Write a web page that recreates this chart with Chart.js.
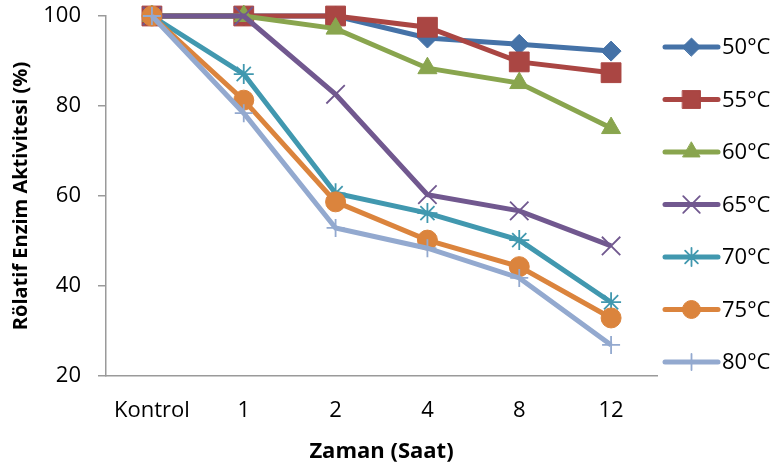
<!DOCTYPE html>
<html>
<head>
<meta charset="utf-8">
<script src="https://cdn.jsdelivr.net/npm/chart.js@4/dist/chart.umd.min.js"></script>
<style>
  html, body { margin: 0; padding: 0; background: #fff; }
  #wrap { width: 780px; height: 466px; }
</style>
</head>
<body>
<div id="wrap"><canvas id="myChart" width="780" height="466"></canvas></div>
<script>
const categories = ['Kontrol', '1', '2', '4', '8', '12'];
const seriesNames = ['50°C', '55°C', '60°C', '65°C', '70°C', '75°C', '80°C'];
const t50 = [100, 100, 100, 95.1, 93.7, 92.2];
const t55 = [100, 100, 100, 97.5, 89.8, 87.4];
const t60 = [100, 100, 97.2, 88.4, 85.1, 75.1];
const t65 = [100, 100, 82.6, 60.3, 56.7, 48.9];
const t70 = [100, 87.1, 60.6, 56.2, 50.2, 36.4];
const t75 = [100, 81.3, 58.7, 50.2, 44.3, 32.9];
const t80 = [100, 78.4, 52.9, 48.4, 41.8, 26.9];
const yTicks = [20, 40, 60, 80, 100];

const colors = ['#4572A7', '#AA4643', '#89A54E', '#71588F', '#4198AF', '#DB843D', '#93A9CF'];
const styles = ['rectRot', 'rect', 'triangle', 'crossRot', 'star', 'circle', 'cross'];
const radii = [10, 14, 11, 13, 10, 10, 9];
const values = [t50, t55, t60, t65, t70, t75, t80];

const FONT = "'Open Sans', 'Liberation Sans', sans-serif";

const datasets = values.map((v, i) => {
  const lineMarker = ['crossRot', 'star', 'cross'].includes(styles[i]);
  return {
    label: seriesNames[i],
    data: v,
    order: values.length - i,   // later series on top, like the original
    clip: false,
    borderColor: colors[i],
    backgroundColor: colors[i],
    borderWidth: 5,
    pointStyle: styles[i],
    pointRadius: radii[i],
    pointBorderWidth: lineMarker ? 1.8 : 1,
    pointBorderColor: colors[i],
    pointBackgroundColor: colors[i],
    tension: 0
  };
});

// Excel-like legend on the right
const sideLegend = {
  id: 'sideLegend',
  afterDraw(chart) {
    const ctx = chart.ctx;
    const x0 = 665, x1 = 718;
    ctx.save();
    chart.data.datasets.forEach((ds, i) => {
      const y = 47 + i * 52.5;
      ctx.strokeStyle = ds.borderColor;
      ctx.lineWidth = 5;
      ctx.lineCap = 'round';
      ctx.beginPath();
      ctx.moveTo(x0, y);
      ctx.lineTo(x1, y);
      ctx.stroke();
      ctx.lineWidth = ds.pointBorderWidth;
      ctx.fillStyle = ds.backgroundColor;
      Chart.helpers.drawPoint(ctx, { pointStyle: ds.pointStyle, radius: ds.pointRadius * 0.9, borderWidth: ds.pointBorderWidth, rotation: 0 }, (x0 + x1) / 2, y);
      ctx.fillStyle = '#000';
      ctx.font = '22px ' + FONT;
      ctx.textBaseline = 'middle';
      ctx.fillText(ds.label, 722, y + 1);
    });
    ctx.restore();
  }
};

const ctx = document.getElementById('myChart').getContext('2d');
new Chart(ctx, {
  type: 'line',
  data: { labels: categories, datasets: datasets },
  plugins: [sideLegend],
  options: {
    responsive: false,
    animation: false,
    layout: { padding: { top: 16, right: 123, bottom: 0, left: 0 } },
    plugins: { legend: { display: false }, tooltip: { enabled: false } },
    scales: {
      x: {
        offset: true,
        afterFit: s => { s.height = 90; s.paddingLeft = 0; s.paddingRight = 0; },
        grid: { display: false, drawTicks: false },
        border: { color: '#9A9A9A', width: 1.5 },
        ticks: { color: '#000', font: { family: FONT, size: 22 }, padding: 22, maxRotation: 0 },
        title: { display: true, text: 'Zaman (Saat)', color: '#000', font: { family: FONT, size: 22, weight: 'bold' }, padding: { top: 0, bottom: 1 } }
      },
      y: {
        min: 20,
        max: 100,
        afterFit: s => { s.width = 106; s.paddingTop = 0; s.paddingBottom = 0; },
        afterBuildTicks: axis => { axis.ticks = yTicks.map(v => ({ value: v })); },
        grid: { drawOnChartArea: false, color: '#9A9A9A', tickLength: 8, lineWidth: 1.5 },
        border: { color: '#9A9A9A', width: 1.5 },
        ticks: { color: '#000', font: { family: FONT, size: 22 }, padding: 17 },
        title: { display: true, text: 'Rölatif Enzim Aktivitesi (%)', color: '#000', font: { family: FONT, size: 20, weight: 'bold' }, padding: { top: 9, bottom: 0 } }
      }
    }
  }
});
</script>
</body>
</html>
